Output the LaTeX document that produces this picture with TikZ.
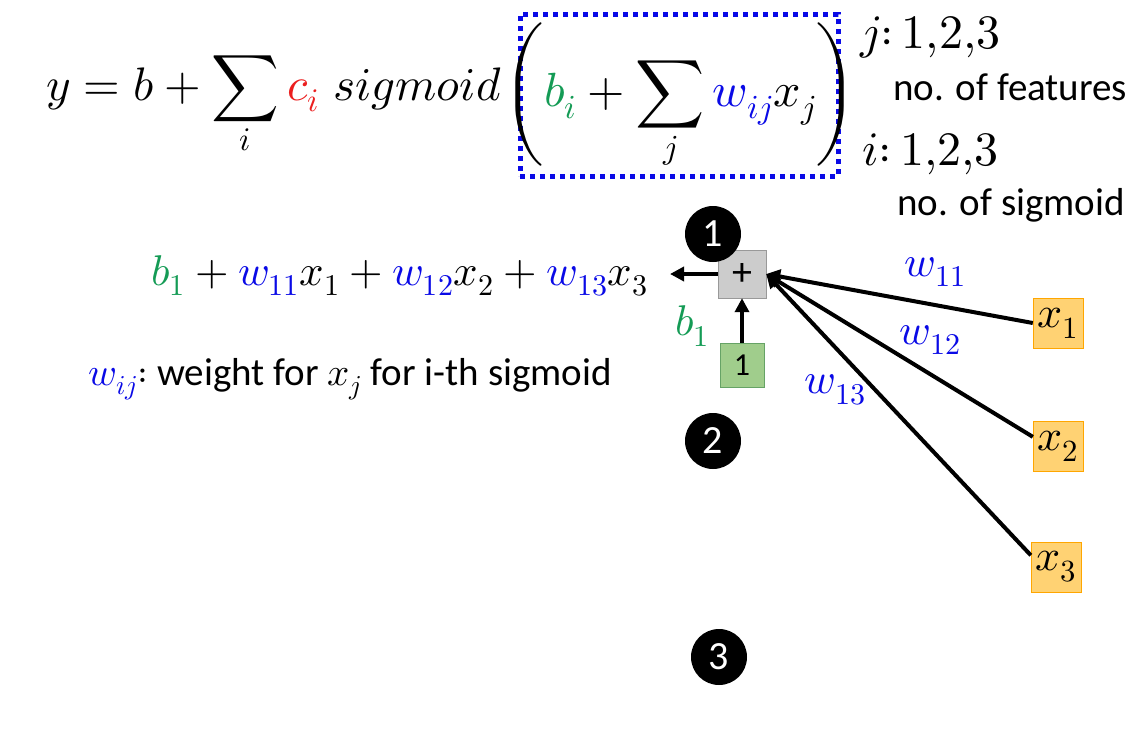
\documentclass[tikz,border=0pt]{standalone}
\usepackage{fontspec}
\usepackage{unicode-math}
\setsansfont{Carlito}
\usetikzlibrary{arrows.meta,positioning}

\definecolor{wblue}{RGB}{10,10,230}
\definecolor{bgreen}{RGB}{20,155,85}
\definecolor{cred}{RGB}{235,30,30}
\definecolor{sumfill}{RGB}{204,204,204}
\definecolor{onefill}{RGB}{160,205,140}
\definecolor{infill}{RGB}{255,210,115}

\begin{document}
\begin{tikzpicture}[
    x=1pt, y=-1pt,
    >={Triangle[length=14pt,width=14pt]},
    big math/.style={font=\fontsize{48}{54}\selectfont, inner sep=0pt},
    mid math/.style={font=\fontsize{43}{48}\selectfont, inner sep=0pt},
    note/.style={font=\sffamily\fontsize{39}{44}\selectfont, inner sep=0pt},
    num/.style={circle, fill=black, text=white, minimum size=56pt, inner sep=0pt,
        font=\sffamily\fontsize{40}{40}\selectfont},
    sum box/.style={draw=gray!80, fill=sumfill, minimum size=48pt, inner sep=0pt,
        font=\sffamily\fontsize{40}{40}\selectfont},
    one box/.style={draw=green!40!black!60, fill=onefill, minimum size=44pt, inner sep=0pt,
        font=\sffamily\fontsize{32}{32}\selectfont},
    in box/.style={draw=orange!70!yellow, fill=infill, minimum size=50pt, inner sep=0pt,
        font=\fontsize{44}{44}\selectfont},
    dotted box/.style={draw=wblue, line width=5pt, dash pattern=on 5pt off 5pt,
        minimum width=318pt, minimum height=162pt, inner sep=0pt},
    conn/.style={->, line width=4pt},
]
\useasboundingbox (0,0) rectangle (1144,734);

% model formula
\node[big math, font=\fontsize{47}{54}\selectfont, anchor=base east] (model) at (502,100)
    {$y = b + \displaystyle\sum_i \textcolor{cred}{c_i}\ sigmoid$};
\node[dotted box] (inner) at (679,95) {};
\node[big math] (innereq) at (680,97)
    {$\Biggl(\textcolor{bgreen}{b_i} + \displaystyle\sum_j \textcolor{wblue}{w_{ij}}x_j\Biggr)$};

% index notes
\node[big math, anchor=base west] (jidx) at (860,48) {$j{:}\,1{,}2{,}3$};
\node[note, anchor=base west] (jnote) at (893,100) {no. of features};
\node[big math, anchor=base west] (iidx) at (862,165) {$i{:}\,1{,}2{,}3$};
\node[note, anchor=base west] (inote) at (897,215) {no. of sigmoid};

% first sigmoid
\node[sum box] (sum) at (742,274) {+};
\node[num] (n1) at (713,234) {1};
\node[num] (n2) at (713,441) {2};
\node[num] (n3) at (719,657) {3};

\node[one box] (one) at (742,365) {1};
\node[mid math, text=bgreen] (blabel) at (692,326) {$b_1$};

\node[in box] (x1) at (1058,323) {$x_1$};
\node[in box] (x2) at (1058,446) {$x_2$};
\node[in box] (x3) at (1056,567) {$x_3$};

\coordinate (out) at (670,274);
\draw[conn] (sum) -- (out);
\draw[conn] (one) -- (sum);
\draw[conn] (x1.west) -- (sum.east);
\draw[conn] (x2.160) -- (sum.east);
\draw[conn] (x3.155) -- (sum.east);

\node[mid math, text=wblue] (w11) at (935,272) {$w_{11}$};
\node[mid math, text=wblue] (w12) at (930,340) {$w_{12}$};
\node[mid math, text=wblue] (w13) at (835,390) {$w_{13}$};

\node[mid math, anchor=base east] (sum1) at (648,285)
    {$\textcolor{bgreen}{b_1} + \textcolor{wblue}{w_{11}}x_1 + \textcolor{wblue}{w_{12}}x_2 + \textcolor{wblue}{w_{13}}x_3$};

\node[note, anchor=base west] (wnote) at (88,385)
    {$\textcolor{wblue}{w_{ij}}{:}$ weight for $x_j$ for i-th sigmoid};

\end{tikzpicture}
\end{document}
